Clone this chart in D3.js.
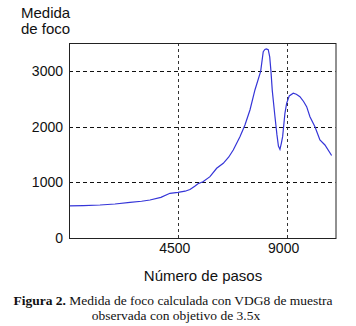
<!DOCTYPE html>
<html>
<head>
<meta charset="utf-8">
<script src="https://cdn.jsdelivr.net/npm/d3@7"></script>
<style>
	body { margin: 0; background: #fff; }
	svg { display: block; }
	.tick-label { font-family: "Liberation Sans", Arial, sans-serif; font-size: 14px; fill: #111; }
	.axis-title { font-family: "Liberation Sans", Arial, sans-serif; font-size: 15px; fill: #111; }
	.caption { font-family: "Liberation Serif", "DejaVu Serif", serif; font-size: 13.5px; fill: #111; }
</style>
</head>
<body>
<div class="container"></div>
<script>

// focus measure (VDG8) against motor step number
const steps = [0, 600, 1282, 1900, 2522, 3000, 3349, 3800, 4175, 4506, 4800, 5002, 5200, 5333, 5540,
	5829, 6106, 6379, 6600, 6792, 7069, 7276, 7483, 7689, 7925, 8032, 8100, 8160, 8239, 8300, 8350,
	8405, 8516, 8599, 8660, 8723, 8780, 8834, 8929, 8999, 9107, 9273, 9400, 9549, 9700, 9827, 9963,
	10170, 10376, 10583, 10860];
const focus = [575, 580, 592, 610, 641, 660, 682, 730, 802, 820, 840, 870, 930, 975, 1010,
	1101, 1251, 1341, 1450, 1580, 1819, 2029, 2298, 2657, 2990, 3345, 3385, 3395, 3380, 3250, 3000,
	2650, 2180, 1850, 1650, 1590, 1700, 1819, 2238, 2418, 2550, 2598, 2580, 2537, 2450, 2357, 2178,
	1998, 1760, 1670, 1480];

const xTicks = [4500, 9000];
const yTicks = [0, 1000, 2000, 3000];
const yGrid = [1000, 2000, 3000];

const yTitle = ["Medida", "de foco"];
const xTitle = "Número de pasos";
const captionBold = "Figura 2.";
const captionRest = " Medida de foco calculada con VDG8 de muestra";
const captionLine2 = "observada con objetivo de 3.5x";

const outerWidth = 356;
const outerHeight = 326;
const plot = { left: 69, right: 335.5, top: 43, bottom: 238 };

const svg = d3.select(".container")
	.append("svg")
		.attr("width", outerWidth)
		.attr("height", outerHeight);

const x = d3.scaleLinear()
	.domain([0, 11020])
	.range([plot.left, plot.right]);

const y = d3.scaleLinear()
	.domain([0, 3500])
	.range([plot.bottom, plot.top]);

// dashed grid
svg.append("g")
	.selectAll("line")
		.data(xTicks).enter()
	.append("line")
		.attr("x1", (d) => Math.round(x(d)) + 0.5)
		.attr("x2", (d) => Math.round(x(d)) + 0.5)
		.attr("y1", plot.top)
		.attr("y2", plot.bottom)
		.style("stroke", "#333")
		.style("stroke-dasharray", "3,3");

svg.append("g")
	.selectAll("line")
		.data(yGrid).enter()
	.append("line")
		.attr("x1", plot.left)
		.attr("x2", plot.right)
		.attr("y1", (d) => Math.round(y(d)) + 0.5)
		.attr("y2", (d) => Math.round(y(d)) + 0.5)
		.style("stroke", "#111")
		.style("stroke-dasharray", "4,3");

// curve
const line = d3.line()
	.x((d, i) => x(steps[i]))
	.y((d) => y(d));

svg.append("path")
	.datum(focus)
	.attr("d", line)
	.style("fill", "none")
	.style("stroke", "#3535d8")
	.style("stroke-width", 1.2);

// frame
svg.append("rect")
	.attr("x", plot.left + 0.5)
	.attr("y", plot.top + 0.5)
	.attr("width", plot.right - plot.left)
	.attr("height", plot.bottom - plot.top)
	.style("fill", "none")
	.style("stroke", "#222")
	.style("stroke-width", 1);

// tick labels
svg.append("g")
	.selectAll("text")
		.data(yTicks).enter()
	.append("text")
		.attr("class", "tick-label")
		.attr("x", plot.left - 6)
		.attr("y", (d) => y(d))
		.attr("dy", "0.36em")
		.attr("text-anchor", "end")
		.text((d) => d);

svg.append("g")
	.selectAll("text")
		.data(xTicks).enter()
	.append("text")
		.attr("class", "tick-label")
		.attr("x", (d) => x(d) - 3)
		.attr("y", plot.bottom + 15)
		.attr("text-anchor", "middle")
		.text((d) => d);

// titles
svg.append("text")
	.attr("class", "axis-title")
	.selectAll("tspan")
		.data(yTitle).enter()
	.append("tspan")
		.attr("x", 21)
		.attr("y", (d, i) => 18 + i * 16)
		.text((d) => d);

svg.append("text")
	.attr("class", "axis-title")
	.attr("x", 203)
	.attr("y", 281)
	.attr("text-anchor", "middle")
	.text(xTitle);

// caption
const cap = svg.append("text")
	.attr("class", "caption")
	.attr("x", 173)
	.attr("y", 305)
	.attr("text-anchor", "middle");
cap.append("tspan").style("font-weight", "bold").text(captionBold);
cap.append("tspan").text(captionRest);

svg.append("text")
	.attr("class", "caption")
	.attr("x", 176)
	.attr("y", 320)
	.attr("text-anchor", "middle")
	.text(captionLine2);

</script>
</body>
</html>
